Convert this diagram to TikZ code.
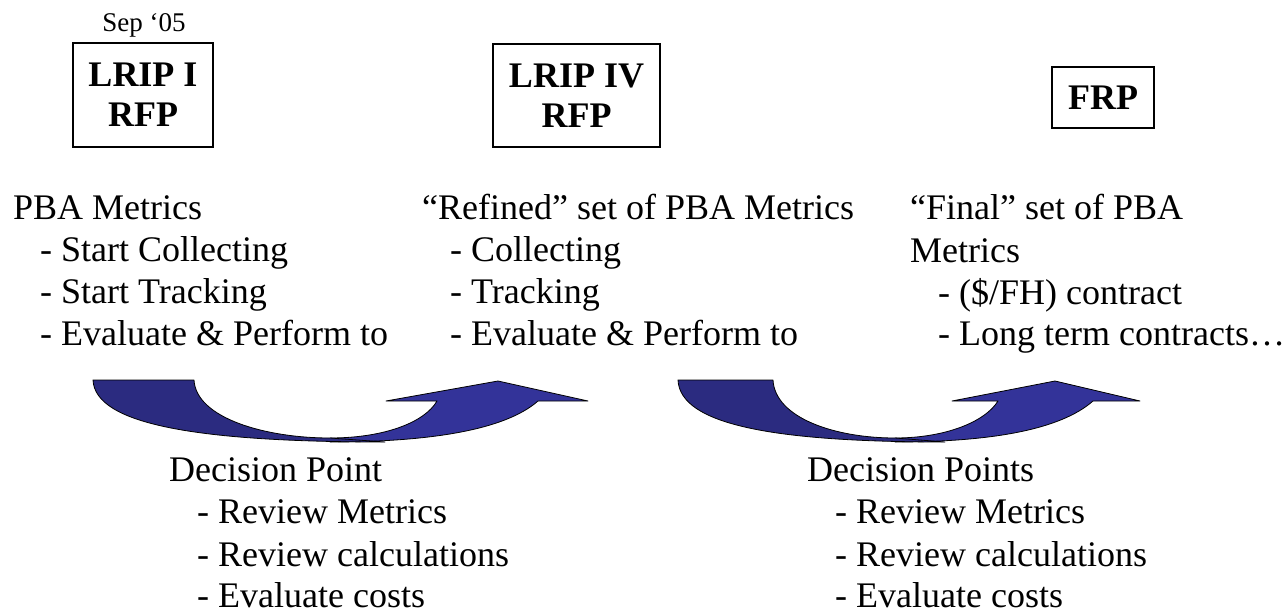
\documentclass[tikz,border=0pt]{standalone}
\usepackage{fontspec}
\setmainfont{Liberation Serif}
\definecolor{ribbondark}{HTML}{2B2B80}
\definecolor{ribbonlight}{HTML}{333399}
\begin{document}
\begin{tikzpicture}[x=1pt,y=-1pt,
  body/.style={anchor=base west,inner sep=0pt,font=\fontsize{36}{42}\selectfont},
  rfpbox/.style={draw=black,line width=1.5pt,inner sep=0pt,align=center,
    font=\fontsize{36}{40}\selectfont\bfseries},
  darkpart/.style={fill=ribbondark,draw=black,line width=0.8pt,line join=round},
  lightpart/.style={fill=ribbonlight,draw=black,line width=0.8pt,line join=round}]
\useasboundingbox (0,0) rectangle (1285,615);

% boxes
\node[anchor=base,inner sep=0pt,font=\fontsize{27}{30}\selectfont] (sep) at (144,32) {Sep ‘05};
\node[rfpbox,minimum width=140pt,minimum height=104pt] (b1) at (143,95) {LRIP I\\RFP};
\node[rfpbox,minimum width=167pt,minimum height=103pt] (b2) at (576.5,95.5) {LRIP IV\\RFP};
\node[rfpbox,minimum width=102pt,minimum height=61pt] (b3) at (1103,97.5) {FRP};

% upper text blocks
\node[body] (t1a) at (13,219) {PBA Metrics};
\node[body] (t1b) at (40,261) {- Start Collecting};
\node[body] (t1c) at (40,303) {- Start Tracking};
\node[body] (t1d) at (40,345) {- Evaluate \& Perform to};

\node[body] (t2a) at (422,219) {“Refined” set of PBA Metrics};
\node[body] (t2b) at (450,261) {- Collecting};
\node[body] (t2c) at (450,303) {- Tracking};
\node[body] (t2d) at (450,345) {- Evaluate \& Perform to};

\node[body] (t3a) at (910,219) {“Final” set of PBA};
\node[body] (t3b) at (910,262) {Metrics};
\node[body] (t3c) at (938,304) {- (\$/FH) contract};
\node[body] (t3d) at (938,345) {- Long term contracts…};

% lower text blocks
\node[body] (t4a) at (169,481) {Decision Point};
\node[body] (t4b) at (197,523) {- Review Metrics};
\node[body] (t4c) at (197,566) {- Review calculations};
\node[body] (t4d) at (197,607) {- Evaluate costs};

\node[body] (t5a) at (807,481) {Decision Points};
\node[body] (t5b) at (835,523) {- Review Metrics};
\node[body] (t5c) at (835,566) {- Review calculations};
\node[body] (t5d) at (835,607) {- Evaluate costs};

% curved arrow 1
\path[lightpart] (330,438) .. controls (385,438) and (425,422) .. (437,401)
  -- (386,401) -- (498,381) -- (588,401) -- (538,401)
  .. controls (505,430) and (430,442) .. (330,442) -- cycle;
\path[darkpart] (93,380) -- (194,380)
  .. controls (196,418) and (265,438) .. (330,438)
  -- (385,442) .. controls (200,442) and (95,425) .. cycle;

% curved arrow 2
\path[lightpart] (895,438) .. controls (945,438) and (985,422) .. (998,401)
  -- (952,401) -- (1055,381) -- (1140,401) -- (1093,401)
  .. controls (1060,430) and (990,442) .. (895,442) -- cycle;
\path[darkpart] (678,380) -- (773,380)
  .. controls (775,418) and (835,438) .. (895,438)
  -- (945,442) .. controls (775,442) and (680,425) .. cycle;
\end{tikzpicture}
\end{document}
